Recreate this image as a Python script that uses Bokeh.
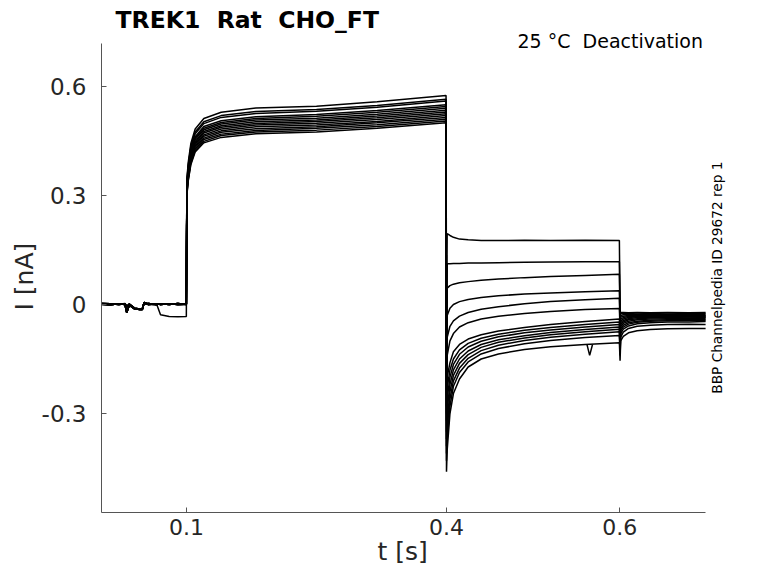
from bokeh.plotting import figure
from bokeh.models import Label, Range1d, FixedTicker, Title
from bokeh.embed import file_html
from bokeh.resources import INLINE

# ---------------- data ----------------
x_ticks = [0.1, 0.4, 0.6]
x_tick_labels = ["0.1", "0.4", "0.6"]
y_ticks = [-0.3, 0, 0.3, 0.6]
y_tick_labels = ["-0.3", "0", "0.3", "0.6"]
x_axis_span = [0.0019, 0.699]      # extent of the drawn x axis line
y_axis_span = [-0.5725, 0.7184]    # extent of the drawn y axis line

# baseline (holding) segment, three observed variants
base_t = [0.002, 0.012, 0.022, 0.029, 0.031, 0.034, 0.040, 0.046, 0.049, 0.051,
          0.056, 0.066, 0.070, 0.080, 0.090, 0.0998]
base_v = [
    [0.001, -0.001, 0.002, 0.000, -0.022, -0.002, -0.012, -0.014, -0.014, 0.006,
     0.000, 0.002, 0.000, 0.002, 0.000, 0.001],
    [0.003, 0.002, 0.000, 0.002, -0.006, 0.001, -0.010, -0.012, -0.011, 0.002,
     0.003, 0.000, 0.002, 0.000, 0.003, 0.000],
    [0.000, 0.002, 0.001, 0.003, -0.004, 0.000, -0.011, -0.013, -0.012, 0.004,
     0.001, -0.002, -0.028, -0.033, -0.034, -0.033],
]
base_kind = [0, 1, 0, 1, 0, 1, 0, 1, 2, 0, 1, 0, 1, 0]

# activation step (t = 0.1 ... 0.4 s)
act_t = [0.1004, 0.102, 0.105, 0.11, 0.12, 0.14, 0.18, 0.25, 0.32, 0.3995]
act_v = [
    [0.345, 0.391, 0.443, 0.483, 0.512, 0.529, 0.541, 0.546, 0.558, 0.575],
    [0.318, 0.360, 0.408, 0.445, 0.472, 0.488, 0.498, 0.504, 0.514, 0.530],
    [0.336, 0.381, 0.431, 0.470, 0.498, 0.515, 0.526, 0.532, 0.543, 0.560],
    [0.306, 0.347, 0.393, 0.428, 0.454, 0.469, 0.479, 0.485, 0.495, 0.510],
    [0.327, 0.371, 0.420, 0.458, 0.485, 0.501, 0.512, 0.518, 0.529, 0.545],
    [0.312, 0.354, 0.400, 0.437, 0.463, 0.478, 0.489, 0.494, 0.504, 0.520],
    [0.339, 0.384, 0.435, 0.475, 0.503, 0.520, 0.531, 0.537, 0.548, 0.565],
    [0.303, 0.343, 0.389, 0.424, 0.449, 0.465, 0.475, 0.480, 0.490, 0.505],
    [0.330, 0.374, 0.424, 0.462, 0.490, 0.506, 0.517, 0.523, 0.534, 0.550],
    [0.321, 0.364, 0.412, 0.449, 0.476, 0.492, 0.503, 0.508, 0.519, 0.535],
    [0.300, 0.340, 0.385, 0.420, 0.445, 0.460, 0.470, 0.475, 0.485, 0.500],
    [0.324, 0.367, 0.416, 0.454, 0.481, 0.497, 0.508, 0.513, 0.524, 0.540],
    [0.309, 0.350, 0.397, 0.433, 0.458, 0.474, 0.484, 0.489, 0.500, 0.515],
    [0.315, 0.357, 0.404, 0.441, 0.467, 0.483, 0.494, 0.499, 0.509, 0.525],
]

# capacitive spike at the 0.4 s step
spike1_t = 0.4
spike1_v = [-0.05, -0.10, -0.15, -0.20, -0.25, -0.28, -0.30, -0.32, -0.35,
            -0.37, -0.39, -0.41, -0.43, -0.46]

# deactivation tails (t = 0.4 ... 0.6 s)
tail_t = [0.4008, 0.404, 0.408, 0.415, 0.425, 0.44, 0.46, 0.49, 0.52, 0.56, 0.5995]
tail_v = [
    [0.195, 0.190, 0.185, 0.180, 0.178, 0.176, 0.176, 0.177, 0.176, 0.177, 0.176],
    [0.112, 0.112, 0.113, 0.113, 0.114, 0.114, 0.115, 0.116, 0.117, 0.118, 0.118],
    [0.045, 0.052, 0.056, 0.060, 0.063, 0.067, 0.070, 0.074, 0.077, 0.080, 0.083],
    [-0.030, -0.010, 0.000, 0.008, 0.014, 0.019, 0.024, 0.029, 0.032, 0.035, 0.038],
    [-0.090, -0.060, -0.045, -0.032, -0.022, -0.013, -0.006, 0.002, 0.008, 0.013, 0.017],
    [-0.140, -0.100, -0.080, -0.062, -0.050, -0.040, -0.032, -0.025, -0.019, -0.014, -0.011],
    [-0.200, -0.160, -0.130, -0.110, -0.095, -0.083, -0.073, -0.063, -0.055, -0.047, -0.040],
    [-0.230, -0.180, -0.150, -0.125, -0.107, -0.093, -0.082, -0.071, -0.063, -0.055, -0.048],
    [-0.260, -0.200, -0.165, -0.137, -0.117, -0.101, -0.089, -0.078, -0.070, -0.062, -0.055],
    [-0.290, -0.220, -0.180, -0.150, -0.128, -0.110, -0.097, -0.086, -0.077, -0.069, -0.062],
    [-0.320, -0.240, -0.195, -0.162, -0.138, -0.118, -0.104, -0.092, -0.083, -0.075, -0.068],
    [-0.340, -0.260, -0.210, -0.175, -0.148, -0.127, -0.112, -0.099, -0.090, -0.082, -0.075],
    [-0.370, -0.280, -0.225, -0.187, -0.158, -0.136, -0.121, -0.108, -0.099, -0.091, -0.085],
    [-0.400, -0.300, -0.245, -0.205, -0.172, -0.150, -0.136, -0.124, -0.116, -0.110, -0.105],
]

# a single glitch on the lowest tail
glitch_t = [0.562, 0.5652, 0.5685]
glitch_v = [-0.109, -0.140, -0.110]

# return to holding potential (t = 0.6 ... 0.7 s); first column is the spike
post_t = [0.6003, 0.601, 0.604, 0.61, 0.62, 0.635, 0.655, 0.68, 0.699]
post_v = [
    [-0.020, -0.022, -0.022, -0.023, -0.022, -0.023, -0.022, -0.023, -0.022],
    [-0.030, -0.025, -0.025, -0.025, -0.026, -0.025, -0.026, -0.025, -0.025],
    [-0.040, -0.030, -0.028, -0.028, -0.027, -0.028, -0.027, -0.028, -0.027],
    [-0.050, -0.035, -0.032, -0.030, -0.030, -0.029, -0.030, -0.029, -0.030],
    [-0.060, -0.040, -0.036, -0.033, -0.032, -0.032, -0.031, -0.032, -0.031],
    [-0.070, -0.045, -0.040, -0.036, -0.034, -0.033, -0.033, -0.034, -0.033],
    [-0.080, -0.050, -0.044, -0.039, -0.036, -0.035, -0.035, -0.034, -0.035],
    [-0.090, -0.055, -0.048, -0.042, -0.039, -0.037, -0.036, -0.037, -0.036],
    [-0.100, -0.060, -0.052, -0.046, -0.042, -0.040, -0.039, -0.038, -0.039],
    [-0.110, -0.066, -0.057, -0.050, -0.046, -0.043, -0.042, -0.041, -0.041],
    [-0.120, -0.072, -0.062, -0.054, -0.049, -0.046, -0.045, -0.044, -0.044],
    [-0.130, -0.080, -0.068, -0.059, -0.053, -0.050, -0.048, -0.048, -0.047],
    [-0.140, -0.090, -0.076, -0.066, -0.060, -0.057, -0.055, -0.054, -0.055],
    [-0.155, -0.100, -0.088, -0.078, -0.072, -0.069, -0.067, -0.066, -0.066],
]

# double spaces kept visible in SVG with a no-break space
title_text = "TREK1 \u00a0Rat \u00a0CHO_FT"
subtitle_text = "25 °C \u00a0Deactivation"
side_text = "BBP Channelpedia ID 29672 rep 1"
x_label = "t [s]"
y_label = "I [nA]"

# ---------------- build traces ----------------
xs, ys = [], []
for i in range(len(act_v)):
    tx = list(base_t) + list(act_t) + [spike1_t] + list(tail_t) + list(post_t)
    ty = (list(base_v[base_kind[i]]) + list(act_v[i]) + [spike1_v[i]]
          + list(tail_v[i]) + list(post_v[i]))
    xs.append(tx)
    ys.append(ty)

FONT = "DejaVu Sans"
TXT = "#262626"
AX = "#555555"

# plot frame spans from the y axis to the right edge and from the top edge to
# the x axis, so that the title texts can live inside it
p = figure(width=762, height=567, output_backend="svg", toolbar_location=None,
           x_range=Range1d(0.0019, 0.76465), y_range=Range1d(-0.5725, 0.8368),
           min_border_left=101, min_border_right=0, min_border_top=0,
           min_border_bottom=55)
p.outline_line_color = None
p.grid.visible = False
p.background_fill_color = "white"
p.border_fill_color = "white"

p.multi_line(xs, ys, line_color="black", line_width=1.5)
p.line(glitch_t, glitch_v, line_color="black", line_width=1.5)

for ax in (p.xaxis[0], p.yaxis[0]):
    ax.axis_line_color = AX
    ax.axis_line_width = 1
    ax.major_tick_line_color = AX
    ax.major_tick_in = 5
    ax.major_tick_out = 0
    ax.minor_tick_line_color = None
    ax.major_label_text_font = FONT
    ax.major_label_text_color = TXT

p.xaxis.bounds = tuple(x_axis_span)
p.xaxis.ticker = FixedTicker(ticks=x_ticks)
p.xaxis.major_label_overrides = {t: l for t, l in zip(x_ticks, x_tick_labels)}
p.xaxis.major_label_text_font_size = "22px"
p.xaxis.major_label_standoff = 6

p.yaxis.bounds = tuple(y_axis_span)
p.yaxis.ticker = FixedTicker(ticks=y_ticks)
p.yaxis.major_label_overrides = {t: l for t, l in zip(y_ticks, y_tick_labels)}
p.yaxis.major_label_text_font_size = "23px"
p.yaxis.major_label_standoff = 15

# axis titles placed along the drawn axis lines (offsets in pixels)
p.add_layout(Title(text=y_label, align="left", offset=202, standoff=0,
                   text_font=FONT, text_font_size="25px",
                   text_font_style="normal", text_color=TXT), "left")
p.add_layout(Title(text=x_label, align="left", offset=276, standoff=-6,
                   text_font=FONT, text_font_size="25px",
                   text_font_style="normal", text_color=TXT), "below")

p.add_layout(Label(x=0.0181, y=0.7818, text=title_text, text_font=FONT,
                   text_font_size="23.5px", text_font_style="bold",
                   text_color="black", text_baseline="alphabetic"))
p.add_layout(Label(x=0.696, y=0.724, text=subtitle_text, text_font=FONT,
                   text_font_size="19px", text_color="black",
                   text_align="right", text_baseline="alphabetic"))
p.add_layout(Label(x=0.7116, y=0.074, text=side_text, text_font=FONT,
                   text_font_size="13.7px", text_color="black", angle=1.5708,
                   text_align="center", text_baseline="middle"))

open("out.html", "w").write(file_html(p, INLINE))
